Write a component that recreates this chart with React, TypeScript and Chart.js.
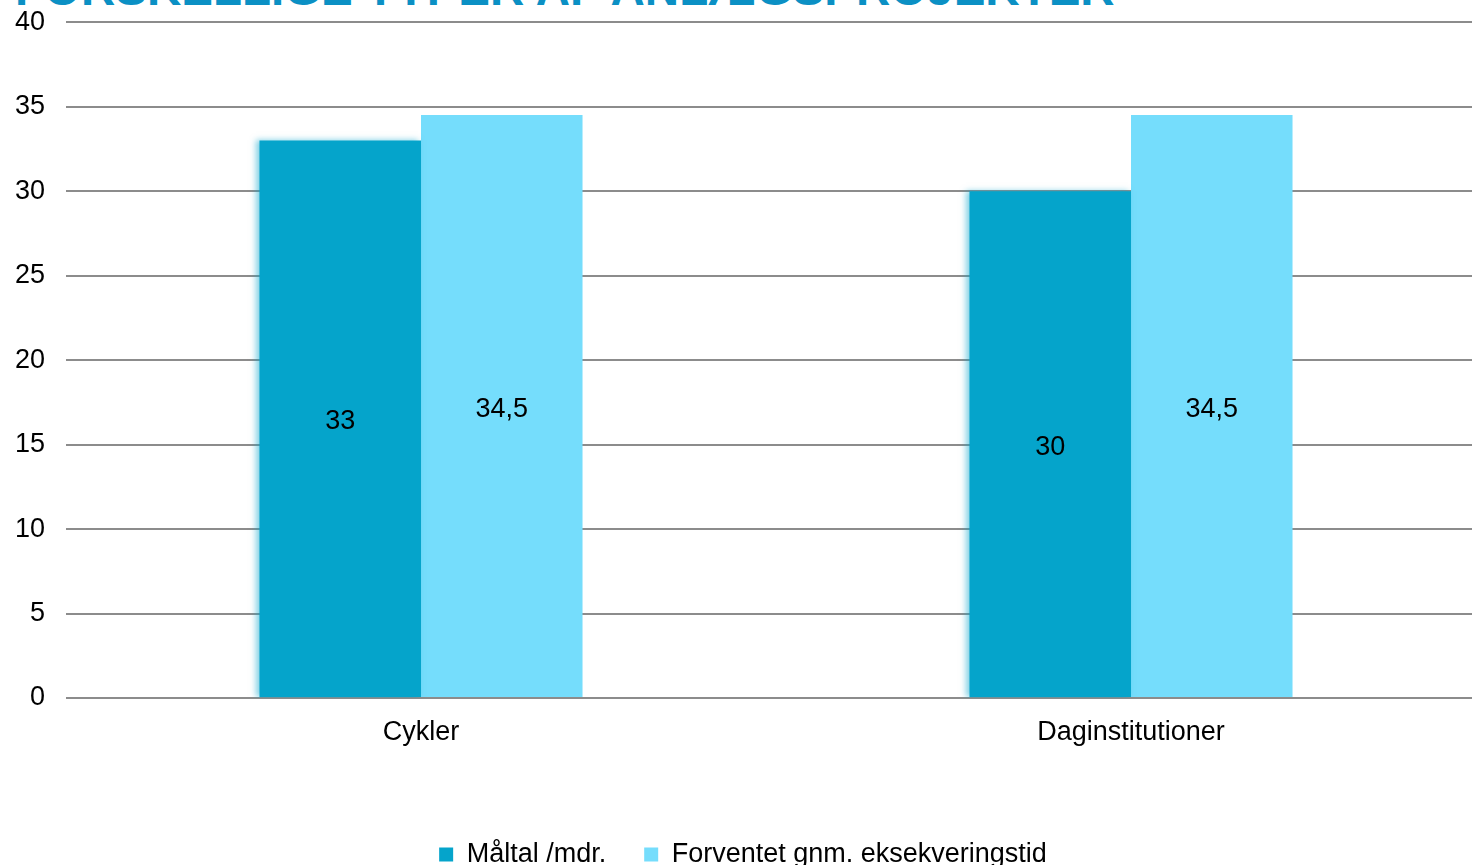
import React, { useEffect, useRef } from "react";
import { Chart, registerables } from "chart.js";

Chart.register(...registerables);

const categories = ["Cykler", "Daginstitutioner"];
const seriesNames = ["Måltal /mdr.", "Forventet gnm. eksekveringstid"];
const maaltal = [33, 30];
const forventet = [34.5, 34.5];
const yTicks = [0, 5, 10, 15, 20, 25, 30, 35, 40];
const titleText = "FORSKELLIGE TYPER AF ANLÆGSPROJEKTER";

const COLOR_DARK = "#05A4CB";
const COLOR_LIGHT = "#75DDFC";
const FONT = "'Liberation Sans', Arial, sans-serif";
const FS = 27;

const fmt = (v: number) => String(v).replace(".", ",");

const labelPlugin = {
  id: "barLabels",
  afterDatasetsDraw(chart: any) {
    const ctx = chart.ctx;
    ctx.save();
    ctx.font = `${FS}px ${FONT}`;
    ctx.fillStyle = "#000";
    ctx.textAlign = "center";
    ctx.textBaseline = "middle";
    chart.data.datasets.forEach((ds: any, di: number) => {
      const meta = chart.getDatasetMeta(di);
      meta.data.forEach((bar: any, i: number) => {
        const p = bar.getProps(["x", "y", "base"], true);
        ctx.fillText(fmt(ds.data[i]), p.x, (p.y + p.base) / 2 + 3);
      });
    });
    ctx.restore();
  },
};

const shadowPlugin = {
  id: "barShadow",
  beforeDatasetDraw(chart: any, args: any) {
    if (args.index === 0) {
      const ctx = chart.ctx;
      ctx.save();
      ctx.shadowColor = "rgba(5,164,203,0.5)";
      ctx.shadowBlur = 6;
      ctx.shadowOffsetX = -3;
      ctx.shadowOffsetY = 0;
    }
  },
  afterDatasetDraw(chart: any, args: any) {
    if (args.index === 0) chart.ctx.restore();
  },
};

export default function App() {
  const ref = useRef<HTMLCanvasElement | null>(null);

  useEffect(() => {
    document.body.style.margin = "0";
    document.body.style.overflow = "hidden";
    const chart = new Chart(ref.current as HTMLCanvasElement, {
      type: "bar",
      data: {
        labels: categories,
        datasets: [
          {
            label: seriesNames[0],
            data: maaltal,
            backgroundColor: COLOR_DARK,
            categoryPercentage: 0.455,
            barPercentage: 1.0,
          },
          {
            label: seriesNames[1],
            data: forventet,
            backgroundColor: COLOR_LIGHT,
            categoryPercentage: 0.455,
            barPercentage: 1.0,
          },
        ],
      },
      options: {
        responsive: false,
        animation: false,
        layout: { padding: { top: 5, right: 14, left: 0, bottom: 0 } },
        plugins: {
          tooltip: { enabled: false },
          title: { display: false },
          legend: {
            position: "bottom",
            labels: {
              font: { family: FONT, size: FS },
              color: "#000",
              boxWidth: 14,
              boxHeight: 14,
              padding: 38,
            },
          },
        },
        scales: {
          x: {
            grid: { display: false, drawTicks: false },
            border: { display: false },
            ticks: {
              font: { family: FONT, size: FS },
              color: "#000",
              padding: 18,
            },
            afterFit: (s: any) => {
              s.height = 105;
            },
          },
          y: {
            min: 0,
            max: 40,
            afterBuildTicks: (s: any) => {
              s.ticks = yTicks.map((v) => ({ value: v }));
            },
            grid: { color: "#8C8C8C", lineWidth: 2, drawTicks: false },
            border: { display: false },
            ticks: {
              font: { family: FONT, size: FS },
              color: "#000",
              padding: 21,
            },
            afterFit: (s: any) => {
              s.width = 66;
            },
          },
        },
      },
      plugins: [shadowPlugin, labelPlugin],
    } as any);
    return () => chart.destroy();
  }, []);

  return (
    <div style={{ position: "relative", width: 1472, height: 865, overflow: "hidden" }}>
      <div
        style={{
          position: "absolute",
          left: 15,
          top: -35,
          fontFamily: FONT,
          fontWeight: "bold",
          fontSize: 47.5,
          lineHeight: "48px",
          color: "#0B90C4",
          whiteSpace: "nowrap",
        }}
      >
        {titleText}
      </div>
      <canvas ref={ref} width={1500} height={893} style={{ position: "absolute", left: 0, top: -15 }} />
    </div>
  );
}
